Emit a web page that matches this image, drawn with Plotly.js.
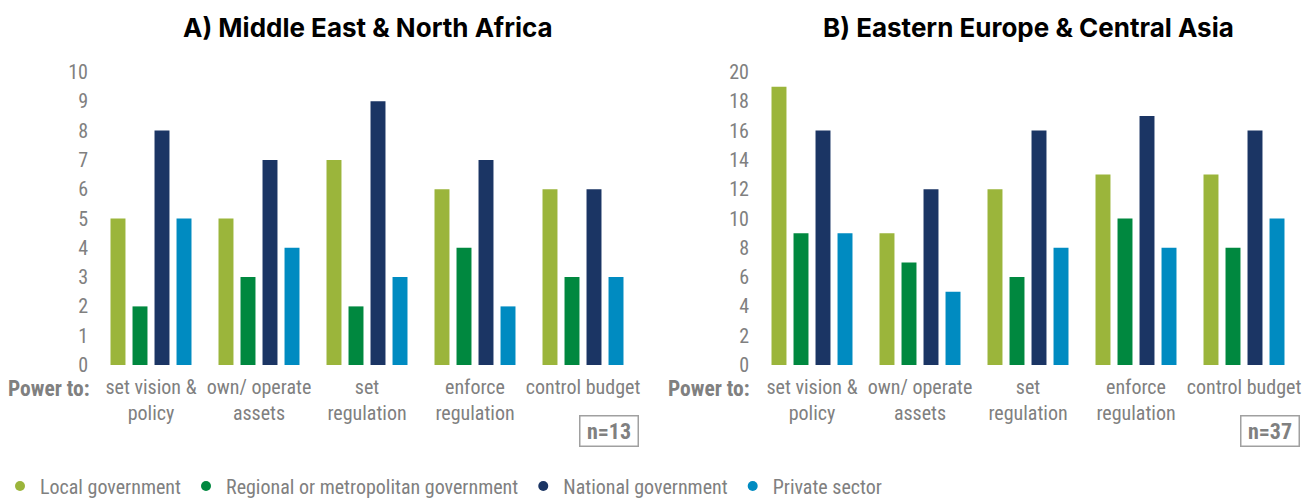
<!DOCTYPE html>
<html>
<head>
<meta charset="utf-8">
<script src="https://cdn.plot.ly/plotly-3.0.1.min.js"></script>
<style>
  html, body { margin: 0; padding: 0; background: #ffffff; }
  #chart { width: 1304px; height: 498px; }
</style>
</head>
<body>
<div id="chart"></div>
<script>
// ---- Data ----
const categories = ["set vision &<br>policy", "own/ operate<br>assets", "set<br>regulation", "enforce<br>regulation", "control budget"];
const seriesNames = ["Local government", "Regional or metropolitan government", "National government", "Private sector"];
const seriesColors = ["#9bb53b", "#00883f", "#1b3564", "#008bc1"];

// A) Middle East & North Africa (n=13)
const menaLocal    = [5, 5, 7, 6, 6];
const menaRegional = [2, 3, 2, 4, 3];
const menaNational = [8, 7, 9, 7, 6];
const menaPrivate  = [5, 4, 3, 2, 3];

// B) Eastern Europe & Central Asia (n=37)
const ecaLocal    = [19, 9, 12, 13, 13];
const ecaRegional = [9, 7, 6, 10, 8];
const ecaNational = [16, 12, 16, 17, 16];
const ecaPrivate  = [9, 5, 8, 8, 10];

const menaTitle = "A) Middle East &amp; North Africa";
const ecaTitle = "B) Eastern Europe &amp; Central Asia";
const menaN = "n=13";
const ecaN = "n=37";
const rowLabel = "Power to:";

// ---- Build ----
const W = 1304, H = 498;
const px = v => v / W;
const py = v => (H - v) / H;

const GRAY = "#808080";
const TICKFONT = "Roboto Condensed, Liberation Sans Narrow, Roboto, sans-serif";
const TITLEFONT = "Inter, Liberation Sans, Arial, sans-serif";

const menaSeries = [menaLocal, menaRegional, menaNational, menaPrivate];
const ecaSeries = [ecaLocal, ecaRegional, ecaNational, ecaPrivate];

const traces = [];
menaSeries.forEach((vals, i) => {
  traces.push({
    type: "bar", x: categories, y: vals, name: seriesNames[i],
    marker: { color: seriesColors[i] }, xaxis: "x", yaxis: "y",
    showlegend: false, hoverinfo: "y+name"
  });
});
ecaSeries.forEach((vals, i) => {
  traces.push({
    type: "bar", x: categories, y: vals, name: seriesNames[i],
    marker: { color: seriesColors[i] }, xaxis: "x2", yaxis: "y2",
    showlegend: false, hoverinfo: "y+name"
  });
});
// legend entries (circle markers)
seriesNames.forEach((nm, i) => {
  traces.push({
    type: "scatter", mode: "markers", x: [null], y: [null], name: nm,
    marker: { color: seriesColors[i], size: 10, symbol: "circle" },
    xaxis: "x", yaxis: "y", showlegend: true, hoverinfo: "skip"
  });
});

const xBase = {
  type: "category", showgrid: false, zeroline: false, showline: false,
  ticks: "", tickangle: 0, tickfont: { family: TICKFONT, size: 20, color: GRAY },
  ticklabelstandoff: 8, fixedrange: true
};
const yBase = {
  showgrid: false, zeroline: false, showline: false, ticks: "",
  tickfont: { family: TICKFONT, size: 20, color: GRAY },
  ticklabelstandoff: 8, fixedrange: true
};

const boxFont = { family: TICKFONT, size: 22, color: GRAY };

const layout = {
  width: W, height: H,
  margin: { l: 0, r: 0, t: 0, b: 0, autoexpand: false },
  paper_bgcolor: "#ffffff", plot_bgcolor: "#ffffff",
  barmode: "group", bargap: 0.185, bargroupgap: 0.32,
  xaxis: Object.assign({}, xBase, { domain: [px(97), px(637)], anchor: "y" }),
  yaxis: Object.assign({}, yBase, { domain: [py(365), py(72)], range: [0, 10], dtick: 1, anchor: "x" }),
  xaxis2: Object.assign({}, xBase, { domain: [px(758), px(1298)], anchor: "y2" }),
  yaxis2: Object.assign({}, yBase, { domain: [py(365), py(72)], range: [0, 20], dtick: 2, anchor: "x2" }),
  showlegend: true,
  legend: {
    orientation: "h", x: 0, xanchor: "left", y: py(486), yanchor: "middle",
    font: { family: TICKFONT, size: 20, color: GRAY },
    itemwidth: 30, bgcolor: "rgba(0,0,0,0)"
  },
  annotations: [
    { text: "<b>" + menaTitle + "</b>", xref: "paper", yref: "paper", x: px(368), y: py(27),
      xanchor: "center", yanchor: "middle", showarrow: false,
      font: { family: TITLEFONT, size: 26, color: "#000000" } },
    { text: "<b>" + ecaTitle + "</b>", xref: "paper", yref: "paper", x: px(1028), y: py(27),
      xanchor: "center", yanchor: "middle", showarrow: false,
      font: { family: TITLEFONT, size: 26, color: "#000000" } },
    { text: "<b>" + rowLabel + "</b>", xref: "paper", yref: "paper", x: px(92), y: py(388),
      xanchor: "right", yanchor: "middle", showarrow: false,
      font: { family: TICKFONT, size: 21.5, color: GRAY } },
    { text: "<b>" + rowLabel + "</b>", xref: "paper", yref: "paper", x: px(752), y: py(388),
      xanchor: "right", yanchor: "middle", showarrow: false,
      font: { family: TICKFONT, size: 21.5, color: GRAY } },
    { text: "<b>" + menaN + "</b>", xref: "paper", yref: "paper", x: px(638.5), y: py(415.5),
      xanchor: "right", yanchor: "top", showarrow: false, width: 53, height: 25,
      bordercolor: "#a0a0a0", borderwidth: 1.5, borderpad: 2, font: boxFont },
    { text: "<b>" + ecaN + "</b>", xref: "paper", yref: "paper", x: px(1299.5), y: py(415.5),
      xanchor: "right", yanchor: "top", showarrow: false, width: 53, height: 25,
      bordercolor: "#a0a0a0", borderwidth: 1.5, borderpad: 2, font: boxFont }
  ]
};

Plotly.newPlot("chart", traces, layout, { displayModeBar: false });
</script>
</body>
</html>
